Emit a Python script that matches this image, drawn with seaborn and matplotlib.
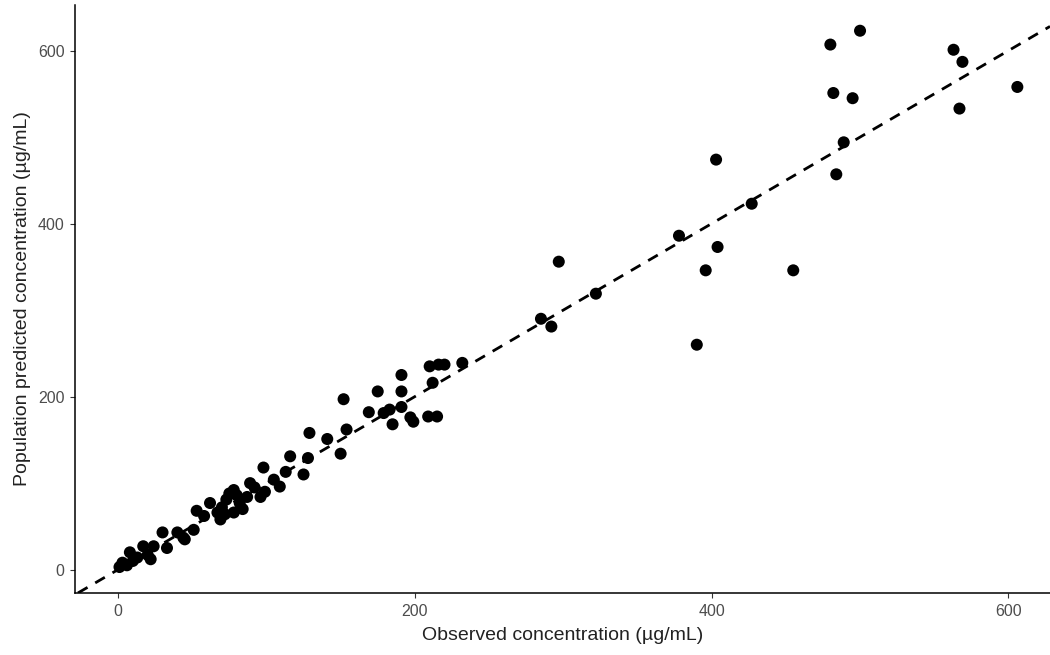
import seaborn as sns
import numpy as np
import pandas as pd
import matplotlib
matplotlib.use("Agg")
import matplotlib.pyplot as plt

# observed vs population predicted (ug/mL)
observed = [
    1, 3, 8, 13, 17, 20, 22, 24, 30, 33, 40, 44, 51, 53,
    62, 67, 69, 73, 78, 78, 82, 87, 89, 96, 99, 105, 109,
    98, 113, 116, 125, 128, 129, 141, 150, 152, 154,
    169, 175, 179, 183, 185, 191, 191, 191, 197, 199, 209, 210, 212, 215, 216, 220, 232,
    285, 292, 297, 322, 378, 390, 396, 403, 404, 427, 455,
    480, 482, 484, 489, 495, 500, 563, 567, 569, 606,
    70, 75, 84, 92, 58, 45, 6, 10, 80, 72,
]
predicted = [
    3, 8, 20, 14, 27, 17, 12, 27, 43, 25, 43, 37, 46, 68,
    77, 66, 58, 81, 92, 66, 77, 84, 100, 84, 90, 104, 96,
    118, 113, 131, 110, 129, 158, 151, 134, 197, 162,
    182, 206, 181, 185, 168, 225, 206, 188, 176, 171, 177, 235, 216, 177, 237, 237, 239,
    290, 281, 356, 319, 386, 260, 346, 474, 373, 423, 346,
    607, 551, 457, 494, 545, 623, 601, 533, 587, 558,
    72, 88, 70, 95, 62, 35, 5, 10, 86, 64,
]

df = pd.DataFrame({"obs": observed, "pred": predicted})

sns.set_style("ticks")
plt.rcParams["font.family"] = ["Liberation Sans", "DejaVu Sans"]

fig = plt.figure(figsize=(10.5, 6.55), dpi=100)
ax = fig.add_axes([0.0714, 0.0947, 0.9286, 0.898])

sns.scatterplot(data=df, x="obs", y="pred", color="black", s=75,
                edgecolor="none", ax=ax, zorder=3)
ax.axline((0, 0), slope=1, color="black", lw=2.0, ls=(0, (4, 3.2)), zorder=2)

ax.set_xlim(-29, 628)
ax.set_ylim(-27, 653)
ax.set_xticks([0, 200, 400, 600])
ax.set_yticks([0, 200, 400, 600])
ax.set_xlabel("Observed concentration (µg/mL)", fontsize=14, color="#222222", labelpad=6)
ax.set_ylabel("Population predicted concentration (µg/mL)", fontsize=14, color="#222222", labelpad=5)
ax.tick_params(axis="both", labelsize=11.5, labelcolor="#4d4d4d", color="#333333",
               length=3.6, width=0.8, pad=4)
sns.despine(ax=ax)
for side in ["left", "bottom"]:
    ax.spines[side].set_linewidth(1.1)
    ax.spines[side].set_color("black")

fig.savefig("out.png", dpi=100)
